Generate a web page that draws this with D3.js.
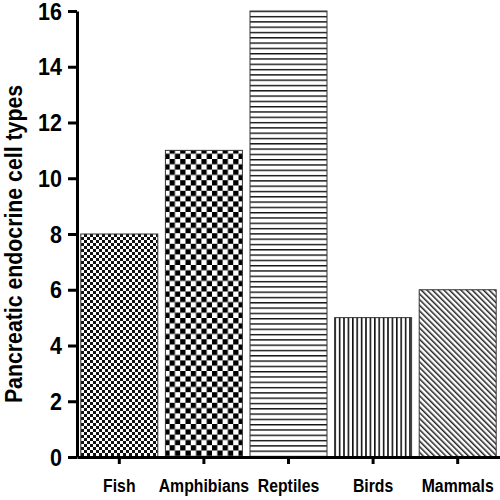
<!DOCTYPE html>
<html><head><meta charset="utf-8">
<script src="https://cdn.jsdelivr.net/npm/d3@7"></script>
<style>body{margin:0;background:#fff}svg{display:block}</style>
</head><body>
<script>
const categories = ["Fish","Amphibians","Reptiles","Birds","Mammals"];
const values = [8,11,16,5,6];
const patterns = ["fineChecker","coarseChecker","hLines","vLines","diagLines"];
const yTicks = [0,2,4,6,8,10,12,14,16];
const yLabel = "Pancreatic endocrine cell types";

const W = 500, H = 500;
const svg = d3.select("body").append("svg").attr("width",W).attr("height",H);
const defs = svg.append("defs");
const font = "'Liberation Sans', Arial, sans-serif";

// patterns
let p = defs.append("pattern").attr("id","fineChecker").attr("patternUnits","userSpaceOnUse").attr("width",6).attr("height",6);
p.append("rect").attr("width",6).attr("height",6).attr("fill","#fff");
p.append("rect").attr("width",3).attr("height",3).attr("fill","#111");
p.append("rect").attr("x",3).attr("y",3).attr("width",3).attr("height",3).attr("fill","#111");

p = defs.append("pattern").attr("id","coarseChecker").attr("patternUnits","userSpaceOnUse").attr("width",10.6).attr("height",10.6);
p.append("rect").attr("width",10.6).attr("height",10.6).attr("fill","#fff");
p.append("rect").attr("width",5.3).attr("height",5.3).attr("fill","#000");
p.append("rect").attr("x",5.3).attr("y",5.3).attr("width",5.3).attr("height",5.3).attr("fill","#000");

p = defs.append("pattern").attr("id","hLines").attr("patternUnits","userSpaceOnUse").attr("width",10).attr("height",5.3);
p.append("rect").attr("width",10).attr("height",5.3).attr("fill","#fff");
p.append("rect").attr("y",0).attr("width",10).attr("height",1.4).attr("fill","#111");

p = defs.append("pattern").attr("id","vLines").attr("patternUnits","userSpaceOnUse").attr("width",4.4).attr("height",10);
p.append("rect").attr("width",4.4).attr("height",10).attr("fill","#fff");
p.append("rect").attr("x",0).attr("width",1.6).attr("height",10).attr("fill","#111");

p = defs.append("pattern").attr("id","diagLines").attr("patternUnits","userSpaceOnUse").attr("width",4).attr("height",4).attr("patternTransform","rotate(-45)");
p.append("rect").attr("width",4).attr("height",4).attr("fill","#fff");
p.append("rect").attr("x",0).attr("width",1.5).attr("height",4).attr("fill","#222");

const x = d3.scaleBand().domain(categories).range([77,500]).paddingInner(0.09).paddingOuter(0.045);
const y = d3.scaleLinear().domain([0,16]).range([457,11]);

svg.selectAll("rect.bar").data(categories).join("rect").attr("class","bar")
  .attr("x",d=>x(d)).attr("width",x.bandwidth())
  .attr("y",(d,i)=>y(values[i])).attr("height",(d,i)=>y(0)-y(values[i]))
  .attr("fill",(d,i)=>`url(#${patterns[i]})`)
  .attr("stroke","#333").attr("stroke-width",1);

// y axis
const ya = svg.append("g").attr("transform","translate(77,0)")
  .call(d3.axisLeft(y).tickValues(yTicks).tickSize(9).tickSizeOuter(0).tickPadding(6));
ya.select(".domain").attr("stroke","#000").attr("stroke-width",3);
ya.selectAll(".tick line").attr("stroke","#000").attr("stroke-width",3);
ya.selectAll(".tick text").attr("font-family",font).attr("font-weight","bold").attr("font-size",21.5)
  .attr("fill","#000").attr("dy","0.34em").attr("transform","scale(1,1.12)");

// x axis
const xa = svg.append("g").attr("transform","translate(0,457)")
  .call(d3.axisBottom(x).tickSize(7).tickSizeOuter(0));
xa.select(".domain").attr("stroke","#000").attr("stroke-width",3);
xa.selectAll(".tick line").attr("stroke","#000").attr("stroke-width",3);
xa.selectAll(".tick text").remove();

svg.selectAll("text.xl").data(categories).join("text").attr("class","xl")
  .attr("transform",d=>`translate(${x(d)+x.bandwidth()/2},492) scale(1,1.12)`)
  .attr("text-anchor","middle").attr("font-family",font).attr("font-weight","bold")
  .attr("font-size",15.8).attr("fill","#000").text(d=>d);

svg.append("text").attr("transform","translate(22,244) rotate(-90) scale(1,1.15)")
  .attr("text-anchor","middle").attr("font-family",font).attr("font-weight","bold")
  .attr("font-size",21.3).attr("fill","#000").text(yLabel);
</script>
</body></html>
